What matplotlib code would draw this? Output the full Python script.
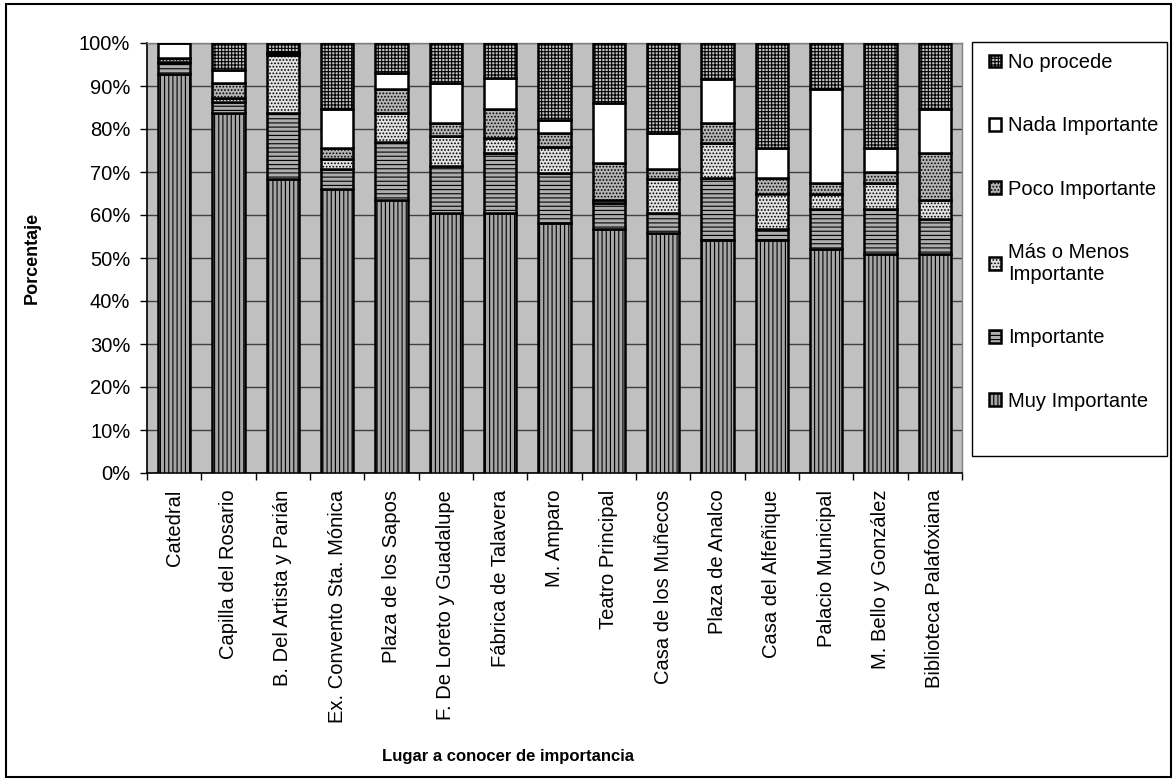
import matplotlib.pyplot as plt
from matplotlib.patches import Rectangle
import numpy as np

lugares = ["Catedral", "Capilla del Rosario", "B. Del Artista y Parián",
           "Ex. Convento Sta. Mónica", "Plaza de los Sapos",
           "F. De Loreto y Guadalupe", "Fábrica de Talavera", "M. Amparo",
           "Teatro Principal", "Casa de los Muñecos", "Plaza de Analco",
           "Casa del Alfeñique", "Palacio Municipal", "M. Bello y González",
           "Biblioteca Palafoxiana"]

# porcentajes por lugar
muy_importante = [92.9, 83.7, 68.3, 66.0, 63.6, 60.4, 60.4, 58.2, 56.8, 55.9, 54.3, 54.3, 52.0, 51.0, 51.0]
importante = [2.4, 2.6, 15.5, 4.8, 13.3, 10.9, 14.1, 11.5, 5.9, 4.5, 14.2, 2.5, 9.3, 10.3, 8.0]
mas_o_menos = [0.3, 0.8, 13.5, 2.2, 6.9, 7.0, 3.3, 6.2, 0.9, 7.9, 8.2, 8.2, 3.7, 6.1, 4.6]
poco_importante = [1.0, 3.6, 0.3, 2.5, 5.5, 3.1, 6.8, 3.1, 8.6, 2.3, 4.7, 3.5, 2.4, 2.5, 10.8]
nada_importante = [3.4, 3.0, 0.3, 9.1, 3.7, 9.4, 7.2, 3.2, 13.8, 8.4, 10.2, 7.0, 21.9, 5.6, 10.2]
no_procede = [0.0, 6.3, 2.1, 15.4, 7.0, 9.2, 8.2, 17.8, 14.0, 21.0, 8.4, 24.5, 10.7, 24.5, 15.4]

series = [("Muy Importante", muy_importante),
          ("Importante", importante),
          ("Más o Menos\nImportante", mas_o_menos),
          ("Poco Importante", poco_importante),
          ("Nada Importante", nada_importante),
          ("No procede", no_procede)]

estilos = [dict(facecolor='#a6a6a6', hatch='||||'),
           dict(facecolor='#adadad', hatch='----'),
           dict(facecolor='#e2e2e2', hatch='.....'),
           dict(facecolor='#b4b4b4', hatch='.....'),
           dict(facecolor='white', hatch=None),
           dict(facecolor='#c4c4c4', hatch='+++++')]

plt.rcParams['font.family'] = ['Liberation Sans', 'DejaVu Sans']
plt.rcParams['hatch.linewidth'] = 0.8

W, H = 1175, 782
fig = plt.figure(figsize=(W / 100, H / 100), dpi=100)
ax = fig.add_axes([147 / W, 1 - 473 / H, 815 / W, 430 / H])
ax.set_facecolor('#c0c0c0')

x = np.arange(len(lugares))
base = np.zeros(len(lugares))
for (nombre, valores), estilo in zip(series, estilos):
    ax.bar(x, valores, 0.6, bottom=base, edgecolor='black', linewidth=1.8,
           label=nombre, zorder=3, **estilo)
    base += np.array(valores)

ax.set_xlim(-0.5, len(lugares) - 0.5)
ax.set_ylim(0, 100)
ax.set_yticks(range(0, 101, 10))
ax.set_yticklabels([f"{v}%" for v in range(0, 101, 10)])
ax.yaxis.grid(True, color='#404040', linewidth=1)
ax.set_axisbelow(True)

ax.set_xticks(x)
ax.set_xticklabels(lugares, rotation=90)
ax.set_xticks(np.arange(-0.5, len(lugares)), minor=True)
ax.tick_params(axis='x', which='major', length=0, pad=12, labelsize=14.5)
ax.tick_params(axis='x', which='minor', length=5, width=1)
ax.tick_params(axis='y', length=5, width=1, pad=7, labelsize=14.5)

for lado in ['left', 'bottom']:
    ax.spines[lado].set_color('black')
    ax.spines[lado].set_linewidth(1.2)
for lado in ['top', 'right']:
    ax.spines[lado].set_color('#808080')
    ax.spines[lado].set_linewidth(1)

# caja de la leyenda y marco exterior
fig.add_artist(Rectangle((972 / W, 1 - 456 / H), 195 / W, 414 / H,
                         transform=fig.transFigure, facecolor='white',
                         edgecolor='black', linewidth=1, zorder=1))
fig.add_artist(Rectangle((6 / W, 1 - 777 / H), 1165 / W, 773 / H,
                         transform=fig.transFigure, fill=False,
                         edgecolor='black', linewidth=1.5, zorder=1))

handles, labels = ax.get_legend_handles_labels()
leg = fig.legend(handles[::-1], labels[::-1], loc='upper left',
                 bbox_to_anchor=(989 / W, 1 - 53 / H), frameon=False,
                 borderpad=0, borderaxespad=0, handlelength=0.6,
                 handleheight=0.6, handletextpad=0.35, labelspacing=2.2,
                 fontsize=14.5)
leg.set_zorder(5)

fig.text(32 / W, 1 - 258 / H, "Porcentaje", rotation=90, ha='center',
         va='center', fontsize=13, fontweight='bold')
fig.text(508 / W, 1 - 757 / H, "Lugar a conocer de importancia", ha='center',
         va='center', fontsize=12, fontweight='bold')

plt.savefig('out.png', dpi=100)
